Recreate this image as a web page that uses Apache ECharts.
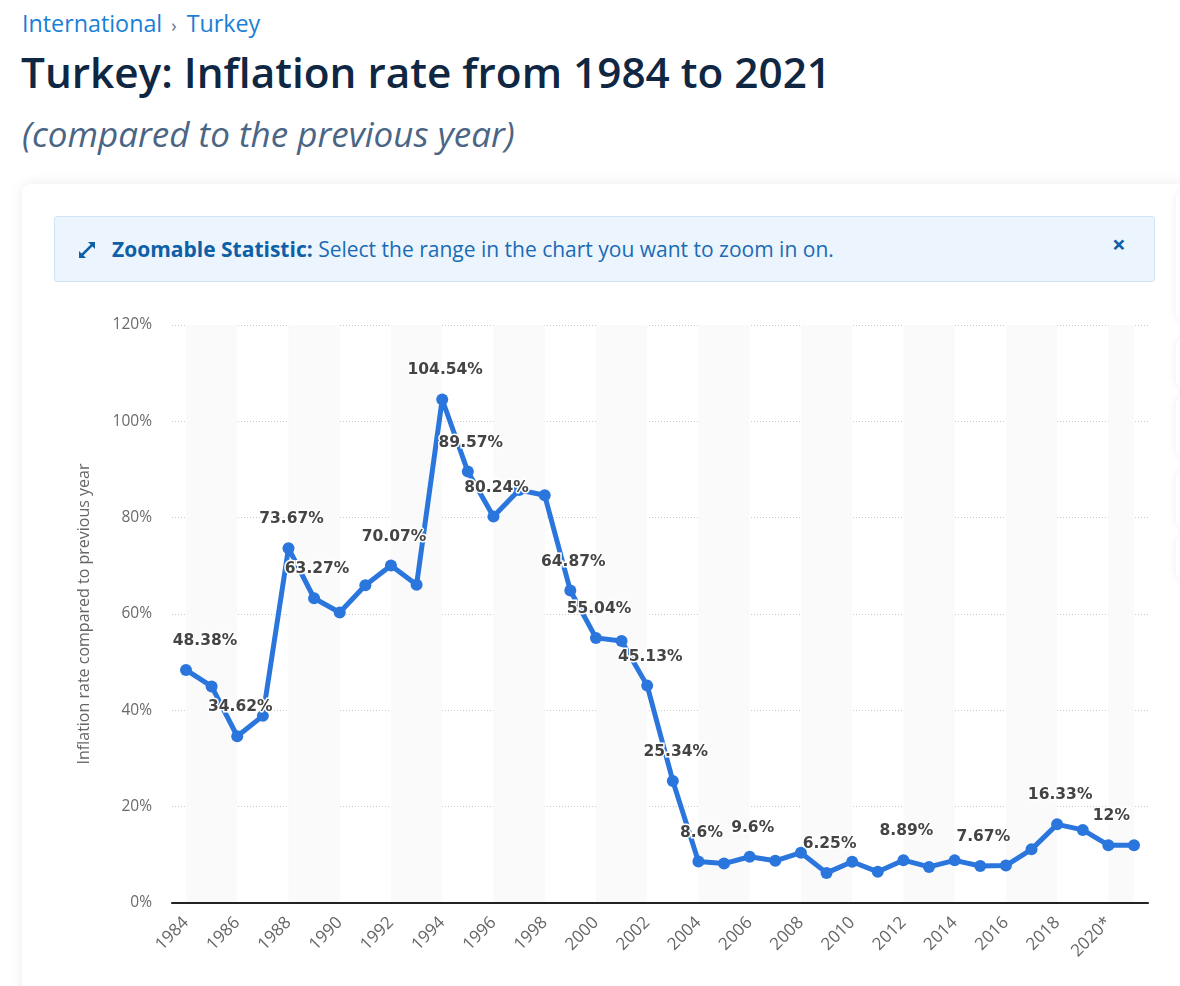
<!DOCTYPE html>
<html>
<head>
<meta charset="utf-8">
<script src="https://cdn.jsdelivr.net/npm/echarts@6/dist/echarts.min.js"></script>
<style>
  html, body { margin:0; padding:0; background:#ffffff; width:1180px; height:986px; overflow:hidden; font-family:"Open Sans", sans-serif; }
  .abs { position:absolute; white-space:nowrap; }
  #crumb { left:22px; top:12px; font-size:23.3px; line-height:23px; color:#1a7fd6; }
  #crumb .sep { color:#5a7896; font-size:18px; padding:0 10px 0 9px; }
  #title { left:21px; top:51px; font-size:42.3px; line-height:42px; font-weight:600; color:#0f2742; }
  #sub { left:22px; top:116px; font-size:35px; line-height:35px; font-style:italic; color:#4b6584; }
  #card { left:22px; top:184px; width:1170px; height:820px; background:#fff; border-radius:8px; box-shadow:0 0 14px rgba(0,0,0,0.08); }
  .side { position:absolute; left:1176px; width:40px; background:#fff; border-radius:8px; box-shadow:0 0 10px rgba(0,0,0,0.07); }
  #banner { left:54px; top:216px; width:1099px; height:64px; background:#ecf5fd; border:1px solid #cfe4f8; border-radius:3px; }
  #bantext { left:112px; top:239px; font-size:21px; line-height:21px; color:#1a6bb5; }
  #bantext b { color:#0d5fa8; font-weight:700; }
  #bx { left:1112px; top:232px; font-size:24px; font-weight:700; color:#0d5fa8; line-height:24px; }
  #icon { left:76px; top:239px; }
  #chart { position:absolute; left:0; top:0; width:1180px; height:986px; }
</style>
</head>
<body>
<div class="abs" id="crumb">International<span class="sep">›</span>Turkey</div>
<div class="abs" id="title">Turkey: Inflation rate from 1984 to 2021</div>
<div class="abs" id="sub">(compared to the previous year)</div>
<div class="abs" id="card"></div>
<div class="side" style="top:192px;height:130px"></div>
<div class="side" style="top:338px;height:50px"></div>
<div class="side" style="top:396px;height:62px"></div>
<div class="side" style="top:470px;height:58px"></div>
<div class="side" style="top:536px;height:44px"></div>
<div class="abs" id="banner"></div>
<svg class="abs" id="icon" width="22" height="22" viewBox="0 0 22 22">
  <g stroke="#0d5fa8" stroke-width="2.6" fill="none" stroke-linecap="square">
    <line x1="5" y1="17" x2="17" y2="5"/>
  </g>
  <polygon points="12,3 19,3 19,10" fill="#0d5fa8"/>
  <polygon points="3,12 3,19 10,19" fill="#0d5fa8"/>
</svg>
<div class="abs" id="bantext"><b>Zoomable Statistic:</b> Select the range in the chart you want to zoom in on.</div>
<div class="abs" id="bx">×</div>
<div id="chart"></div>
<script>
// ---- data ----
const years = ['1984','1985','1986','1987','1988','1989','1990','1991','1992','1993',
  '1994','1995','1996','1997','1998','1999','2000','2001','2002','2003',
  '2004','2005','2006','2007','2008','2009','2010','2011','2012','2013',
  '2014','2015','2016','2017','2018','2019','2020*','2021'];
const inflation = [48.38, 44.96, 34.62, 38.85, 73.67, 63.27, 60.31, 65.97, 70.07, 66.09,
  104.54, 89.57, 80.24, 85.73, 84.64, 64.87, 55.04, 54.4, 45.13, 25.34,
  8.6, 8.18, 9.6, 8.76, 10.44, 6.25, 8.57, 6.47, 8.89, 7.49,
  8.85, 7.67, 7.78, 11.14, 16.33, 15.18, 12, 12];
const labeledYears = ['1984','1986','1988','1989','1992','1994','1995','1996','1999','2000',
  '2002','2003','2004','2006','2009','2012','2015','2018','2020*'];
const yTicks = { min: 0, max: 120, step: 20 };

// ---- chart ----
const chart = echarts.init(document.getElementById('chart'), null, { renderer: 'canvas' });
const seriesData = inflation.map((v, i) => {
  const item = { value: v };
  if (labeledYears.indexOf(years[i]) >= 0) {
    item.label = { show: true };
    if (i === 0) item.label.offset = [19, 0];
  }
  return item;
});

const option = {
  backgroundColor: 'transparent',
  animation: false,
  grid: [
    { left: 172, right: 32, top: 325, bottom: 83 },
    { left: 186, right: 46, top: 325, bottom: 83 }
  ],
  xAxis: [
    { gridIndex: 0, type: 'value', min: 0, max: 1,
      axisLine: { show: true, lineStyle: { color: '#222', width: 2 } },
      axisTick: { show: false }, axisLabel: { show: false }, splitLine: { show: false } },
    { gridIndex: 1, type: 'category', data: years, boundaryGap: false,
      axisLine: { show: false }, axisTick: { show: false },
      axisLabel: { interval: 1, rotate: 45, margin: 17, color: '#666',
        fontFamily: 'Open Sans', fontSize: 17 },
      splitLine: { show: false },
      splitArea: { show: true,
        interval: function (idx) { return idx % 2 === 0 || idx === years.length - 1; },
        areaStyle: { color: ['#fafafa', 'rgba(255,255,255,0)'] } } }
  ],
  yAxis: [
    { gridIndex: 0, type: 'value', min: yTicks.min, max: yTicks.max, interval: yTicks.step,
      name: 'Inflation rate compared to previous year', nameLocation: 'middle', nameGap: 80,
      nameTextStyle: { color: '#666', fontFamily: 'Open Sans', fontSize: 16 },
      axisLine: { show: false }, axisTick: { show: false },
      axisLabel: { formatter: '{value}%', margin: 20, color: '#6a6a6a',
        fontFamily: 'Open Sans', fontSize: 15.5 },
      splitLine: { show: true, lineStyle: { color: '#c8c8c8', type: [1, 2], width: 1 } } },
    { gridIndex: 1, type: 'value', min: yTicks.min, max: yTicks.max, interval: yTicks.step,
      show: false, splitLine: { show: false } }
  ],
  series: [{
    type: 'line', xAxisIndex: 1, yAxisIndex: 1,
    data: seriesData,
    symbol: 'circle', symbolSize: 12,
    itemStyle: { color: '#2a76dd' },
    lineStyle: { color: '#2a76dd', width: 5 },
    label: { show: false, position: 'top', distance: 15, offset: [3, 0],
      formatter: p => p.value + '%',
      color: '#444', fontFamily: 'DejaVu Sans', fontWeight: 'bold', fontSize: 15.5,
      textBorderColor: '#fff', textBorderWidth: 3 },
    z: 5
  }]
};
chart.setOption(option);
</script>
</body>
</html>
